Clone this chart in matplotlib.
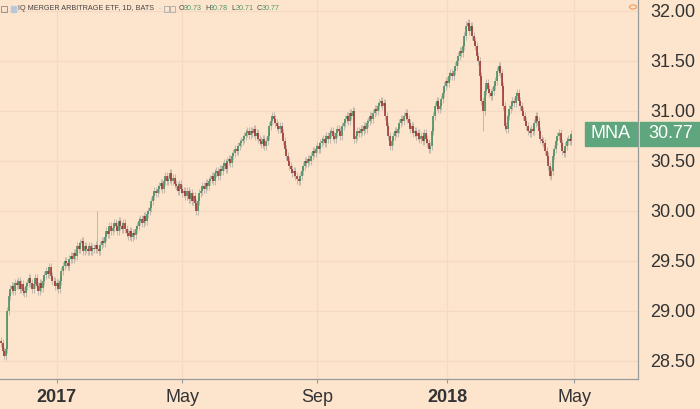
import numpy as np
import matplotlib.pyplot as plt
from matplotlib.patches import Rectangle, Circle
from matplotlib.transforms import blended_transform_factory
from matplotlib import font_manager

# daily closes, Nov 2016 .. end of Apr 2018
closes = [
    28.68, 28.60, 28.55, 28.62,
    29.00, 29.15, 29.22,
    29.25, 29.20, 29.28,
    29.26, 29.30, 29.22, 29.27,
    29.20, 29.18, 29.25, 29.28,
    29.33, 29.28, 29.22, 29.27, 29.33, 29.25,
    29.20, 29.28, 29.23, 29.30, 29.36,
    29.40, 29.37, 29.44, 29.35, 29.30, 29.30, 29.25,
    29.28, 29.22, 29.30, 29.40, 29.45,
    29.50, 29.48, 29.45, 29.52, 29.55,
    29.52, 29.58, 29.55, 29.65, 29.62,
    29.68, 29.70, 29.60, 29.65, 29.62, 29.60,
    29.65, 29.60, 29.63, 29.62, 29.66, 29.62,
    29.60, 29.66, 29.70, 29.68, 29.74,
    29.80, 29.77, 29.85, 29.80, 29.83, 29.88,
    29.85, 29.80, 29.90, 29.85, 29.82, 29.88,
    29.82, 29.78, 29.75, 29.80, 29.74, 29.78,
    29.76, 29.82, 29.85, 29.90, 29.92,
    29.88, 29.95, 29.90, 29.97, 30.00, 30.03,
    30.10, 30.15, 30.20, 30.18, 30.22,
    30.25, 30.28, 30.22, 30.30, 30.35,
    30.30, 30.32, 30.38, 30.30, 30.33, 30.27,
    30.25, 30.20, 30.27, 30.22, 30.18, 30.20,
    30.15, 30.20, 30.12, 30.18, 30.10, 30.15,
    30.08, 30.00, 30.10, 30.18,
    30.20, 30.25, 30.22, 30.28, 30.25, 30.30, 30.32,
    30.35, 30.30, 30.38, 30.40, 30.35, 30.42,
    30.40, 30.45, 30.48, 30.42, 30.50, 30.52,
    30.48, 30.55, 30.58, 30.62, 30.60,
    30.65, 30.68, 30.70, 30.72, 30.75,
    30.78, 30.80, 30.76, 30.80, 30.78, 30.82, 30.75, 30.78, 30.72,
    30.70, 30.67, 30.72, 30.65, 30.70, 30.75,
    30.85, 30.90, 30.95, 30.92, 30.88,
    30.85, 30.82, 30.85, 30.78,
    30.70, 30.62, 30.55, 30.50, 30.45,
    30.42, 30.38, 30.40, 30.35,
    30.32, 30.30, 30.35, 30.40,
    30.45, 30.50, 30.48, 30.52, 30.50,
    30.55, 30.60, 30.58, 30.62, 30.65, 30.62, 30.68,
    30.70, 30.72, 30.68, 30.75, 30.72, 30.78,
    30.80, 30.75, 30.72, 30.78, 30.82, 30.80,
    30.75, 30.85, 30.88, 30.92,
    30.95, 30.90, 30.98, 30.95, 31.00,
    30.72,
    30.75, 30.80, 30.78, 30.82,
    30.80, 30.85, 30.82, 30.88, 30.90,
    30.95, 30.92, 30.98, 31.02, 31.00,
    31.05, 31.08, 31.10, 31.05, 31.08,
    30.95, 30.85, 30.75,
    30.65, 30.70,
    30.75, 30.80, 30.78, 30.82,
    30.88, 30.92, 30.90, 30.95, 30.98, 30.92,
    30.88, 30.82, 30.85, 30.78, 30.80, 30.75,
    30.78, 30.72, 30.75, 30.70, 30.78, 30.72,
    30.68, 30.62, 30.65, 30.80,
    30.95, 31.05, 31.10, 31.02,
    31.05, 31.12, 31.18, 31.25,
    31.30, 31.28, 31.35, 31.38,
    31.35, 31.40, 31.45, 31.50, 31.55,
    31.60, 31.58, 31.65, 31.75, 31.85,
    31.88, 31.80, 31.85, 31.75,
    31.70, 31.65, 31.55, 31.50,
    31.35, 31.10, 31.00,
    31.20, 31.28, 31.22, 31.18,
    31.15, 31.20, 31.25, 31.30, 31.40,
    31.45, 31.38, 31.25, 31.05,
    30.85, 30.82, 30.95, 31.02,
    31.05, 31.10, 31.08, 31.15, 31.18,
    31.10, 31.05, 31.00, 30.95, 30.90,
    30.85, 30.80, 30.78, 30.82, 30.80,
    30.88, 30.95, 30.90, 30.80, 30.72,
    30.70, 30.68, 30.60, 30.55,
    30.45, 30.35, 30.40,
    30.55, 30.62, 30.70, 30.75, 30.78,
    30.68, 30.60, 30.58, 30.65,
    30.70, 30.72, 30.70, 30.77,
]
first_open = 28.70
# a few long wicks that stick out of the picture
spike_high = {62: 30.00, 247: 31.12, 300: 31.90}
spike_low = {2: 28.52, 191: 30.27, 311: 30.80, 354: 30.32}

yticks = [28.5, 29.0, 29.5, 30.0, 30.5, 31.0, 31.5, 32.0]
xtick_pos = [36, 117, 204, 288, 370]
xtick_lab = ['2017', 'May', 'Sep', '2018', 'May']
xtick_bold = [True, False, False, True, False]

symbol = 'MNA'
title = 'IQ MERGER ARBITRAGE ETF, 1D, BATS'
ohlc_txt = [('O', '30.73'), ('H', '30.78'), ('L', '30.71'), ('C', '30.77')]

BG = '#fde5cd'
GRID = '#f5d9c4'
UP = '#3d8b5a'
DOWN = '#9c2b2b'
WICK = '#c4b9af'
LABEL_GREEN = '#5fa67f'

plt.rcParams['font.family'] = ['Liberation Sans', 'DejaVu Sans']

# header uses a condensed face when there is one
names = {f.name for f in font_manager.fontManager.ttflist}
if 'Liberation Sans Narrow' in names:
    head_font, head_size = 'Liberation Sans Narrow', 6.2
else:
    head_font, head_size = 'Liberation Sans', 5.2

W, H = 700, 409
fig = plt.figure(figsize=(W / 100, H / 100), dpi=100, facecolor=BG)
ax = fig.add_axes([0, 30 / H, 638 / W, 379 / H])
ax.set_facecolor(BG)

c = np.array(closes)
o = np.concatenate([[first_open], c[:-1]])
idx = np.arange(len(c))
hi = np.maximum(o, c) + 0.04
lo = np.minimum(o, c) - 0.04
for k, v in spike_high.items():
    hi[k] = v
for k, v in spike_low.items():
    lo[k] = v

up = c >= o
ax.vlines(idx, lo, hi, color=WICK, lw=0.75, zorder=2)
ax.vlines(idx[up], o[up], c[up], color=UP, lw=1.1, zorder=3)
ax.vlines(idx[~up], o[~up], c[~up], color=DOWN, lw=1.1, zorder=3)

ax.set_xlim(-0.65, 411)
ax.set_ylim(28.319, 32.105)

ax.yaxis.tick_right()
ax.set_yticks(yticks)
ax.set_yticklabels(['%.2f' % v for v in yticks])
ax.tick_params(axis='y', length=0, pad=9, labelsize=13, labelcolor='#333333')
ax.set_xticks(xtick_pos)
ax.set_xticklabels(xtick_lab)
ax.tick_params(axis='x', length=3, width=0.8, color='#9a9a9a', pad=4,
               labelsize=13, labelcolor='#333333')
for lab, b in zip(ax.get_xticklabels(), xtick_bold):
    if b:
        lab.set_fontweight('bold')

ax.grid(True, color=GRID, lw=0.9, zorder=0)
ax.set_axisbelow(True)
for s in ['top', 'left']:
    ax.spines[s].set_visible(False)
for s in ['right', 'bottom']:
    ax.spines[s].set_color('#9a9a9a')
    ax.spines[s].set_linewidth(0.9)

# last price labels
last = c[-1]
tr = blended_transform_factory(ax.transAxes, ax.transData)
bh = 24 / 100.1
ax.add_patch(Rectangle((585 / 638, last - bh / 2), 52 / 638, bh, transform=tr,
                       color=LABEL_GREEN, clip_on=False, zorder=5))
ax.add_patch(Rectangle((640 / 638, last - bh / 2), 62 / 638, bh, transform=tr,
                       color=LABEL_GREEN, clip_on=False, zorder=5))
ax.text(611 / 638, last, symbol, transform=tr, color='white', fontsize=13,
        ha='center', va='center', zorder=6, clip_on=False)
ax.text(648 / 638, last, '%.2f' % last, transform=tr, color='white', fontsize=13,
        ha='left', va='center', zorder=6, clip_on=False)

# header line
ty = 1 - 8.5 / H
fig.patches.append(Rectangle((1 / W, 1 - 12 / H), 6 / W, 6 / H, transform=fig.transFigure,
                             fill=False, ec='#888888', lw=0.6))
fig.patches.append(Rectangle((11 / W, 1 - 12 / H), 5 / W, 6 / H, transform=fig.transFigure,
                             color='#b8c8d8'))
fig.text(18 / W, ty, title, fontsize=head_size, family=head_font, color='#444444',
         va='center', ha='left')
fig.text(159 / W, ty, '-', fontsize=head_size, family=head_font, color='#bbbbbb',
         va='center', ha='left')
for bx in [164, 170]:
    fig.patches.append(Rectangle((bx / W, 1 - 12 / H), 5 / W, 6 / H, transform=fig.transFigure,
                                 fill=False, ec='#aaaaaa', lw=0.6))
x = 179
for letter, val in ohlc_txt:
    fig.text(x / W, ty, letter, fontsize=head_size, family=head_font, color='#444444',
             va='center', ha='left')
    fig.text((x + 5) / W, ty, val, fontsize=head_size, family=head_font, color='#4c9a6a',
             va='center', ha='left')
    x += 26

# little clock icon top right
fig.patches.append(Circle((633 / W, 1 - 7 / H), 3.5 / W, transform=fig.transFigure,
                          fill=False, ec='#f0a060', lw=0.9))

fig.savefig('out.png', dpi=100, facecolor=BG)
